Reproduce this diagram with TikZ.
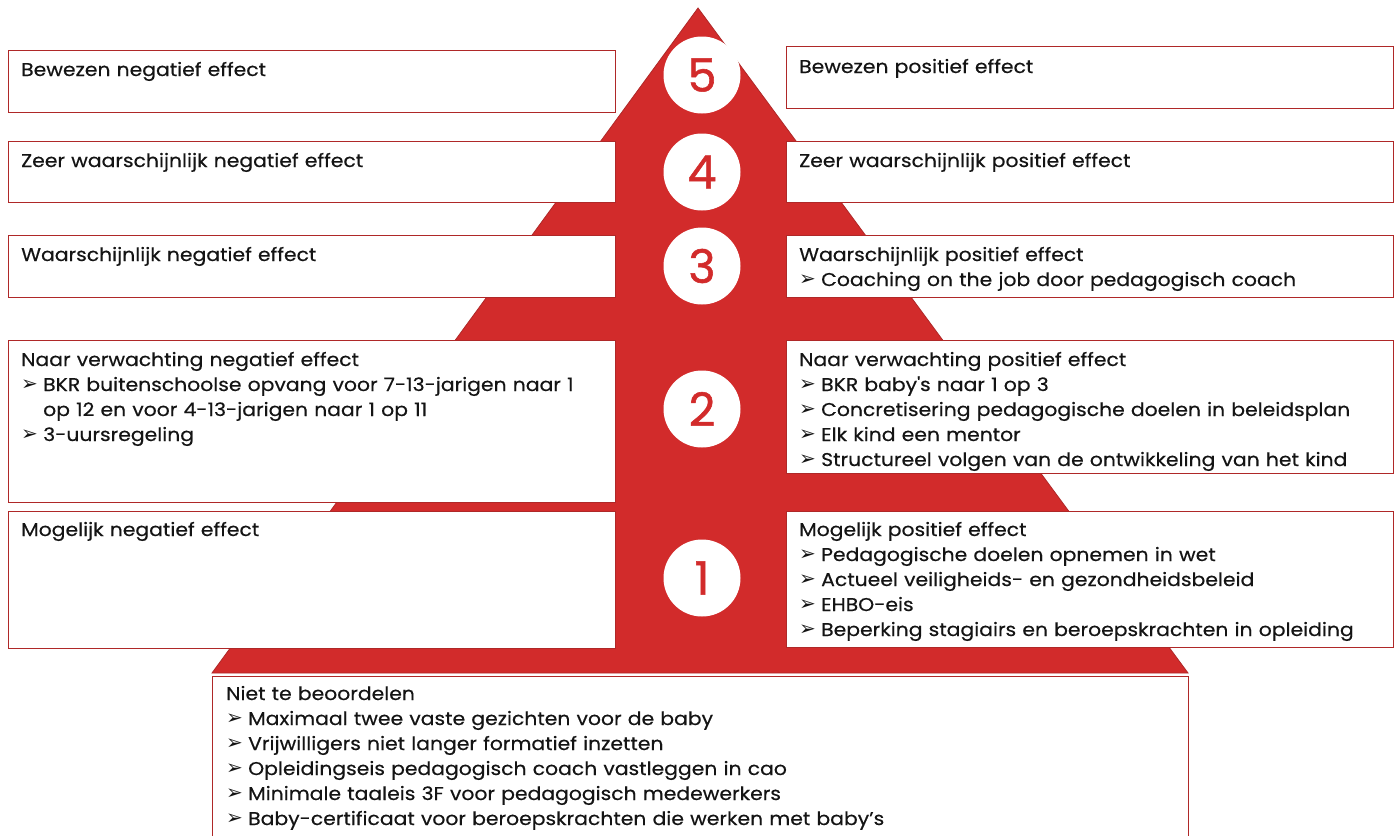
\documentclass[tikz,border=0pt]{standalone}
\usepackage{fontspec}
\setmainfont[FakeStretch=1.1, FakeBold=0.4]{Poppins}
\newfontfamily\numf[FakeBold=1.2]{Poppins}
\newfontfamily\symf{DejaVu Sans}
\definecolor{pyr}{RGB}{210,43,43}
\definecolor{bord}{RGB}{175,40,40}
\definecolor{ink}{RGB}{20,20,20}
\newcommand{\bul}{\makebox[22pt][l]{\raisebox{0.5pt}{\symf\fontsize{20}{20}\selectfont ➢}}}
\newcommand{\ind}{\hspace*{22pt}}
\tikzset{
  box/.style={draw=bord, fill=white, line width=1.2pt, inner sep=0, anchor=north west},
  txt/.style={anchor=base west, inner sep=0, text width=600pt, align=left, text=ink,
              font=\fontsize{18.5}{25}\selectfont},
  circ/.style={circle, fill=white, minimum size=77pt, inner sep=0, text=pyr,
               font=\numf\fontsize{46}{46}\selectfont}
}
\begin{document}
\begin{tikzpicture}[x=1pt,y=-1pt]
\useasboundingbox (0,0) rectangle (1397,835);
\clip (0,0) rectangle (1397,835);
% pyramid
\filldraw[fill=pyr, draw=bord, line width=0.8pt] (698,8) -- (1188,673) -- (212,673) -- cycle;
% left boxes
\node[box, minimum width=607pt, minimum height=62pt] (l5) at (8,50) {};
\node[box, minimum width=607pt, minimum height=61pt] (l4) at (8,141) {};
\node[box, minimum width=607pt, minimum height=62pt] (l3) at (8,235) {};
\node[box, minimum width=607pt, minimum height=162pt] (l2) at (8,340) {};
\node[box, minimum width=607pt, minimum height=137pt] (l1) at (8,511) {};
% right boxes
\node[box, minimum width=607pt, minimum height=62pt] (r5) at (786,46) {};
\node[box, minimum width=607pt, minimum height=61pt] (r4) at (786,141) {};
\node[box, minimum width=607pt, minimum height=62pt] (r3) at (786,235) {};
\node[box, minimum width=607pt, minimum height=133pt] (r2) at (786,340) {};
\node[box, minimum width=607pt, minimum height=136pt] (r1) at (786,511) {};
% bottom box
\node[box, minimum width=976pt, minimum height=180pt] (b0) at (212,676) {};
% texts left
\node[txt] (tl5) at (21,76) {Bewezen negatief effect};
\node[txt] (tl4) at (21,167) {Zeer waarschijnlijk negatief effect};
\node[txt] (tl3) at (21,261) {Waarschijnlijk negatief effect};
\node[txt] (tl2) at (21,366) {Naar verwachting negatief effect\\
  \bul BKR buitenschoolse opvang voor 7-13-jarigen naar 1\\
  \ind op 12 en voor 4-13-jarigen naar 1 op 11\\
  \bul 3-uursregeling};
\node[txt] (tl1) at (21,536) {Mogelijk negatief effect};
% texts right
\node[txt] (tr5) at (799,73) {Bewezen positief effect};
\node[txt] (tr4) at (799,167) {Zeer waarschijnlijk positief effect};
\node[txt] (tr3) at (799,261) {Waarschijnlijk positief effect\\
  \bul Coaching on the job door pedagogisch coach};
\node[txt] (tr2) at (799,366) {Naar verwachting positief effect\\
  \bul BKR baby\textquotesingle s naar 1 op 3\\
  \bul Concretisering pedagogische doelen in beleidsplan\\
  \bul Elk kind een mentor\\
  \bul Structureel volgen van de ontwikkeling van het kind};
\node[txt] (tr1) at (799,536) {Mogelijk positief effect\\
  \bul Pedagogische doelen opnemen in wet\\
  \bul Actueel veiligheids- en gezondheidsbeleid\\
  \bul EHBO-eis\\
  \bul Beperking stagiairs en beroepskrachten in opleiding};
% bottom text
\node[txt, text width=950pt] (tb) at (226,700) {Niet te beoordelen\\
  \bul Maximaal twee vaste gezichten voor de baby\\
  \bul Vrijwilligers niet langer formatief inzetten\\
  \bul Opleidingseis pedagogisch coach vastleggen in cao\\
  \bul Minimale taaleis 3F voor pedagogisch medewerkers\\
  \bul Baby-certificaat voor beroepskrachten die werken met baby’s};
% circles
\node[circ] (c5) at (702,75) {5};
\node[circ] (c4) at (702,172) {4};
\node[circ] (c3) at (702,266) {3};
\node[circ] (c2) at (702,409) {2};
\node[circ] (c1) at (702,578) {1};
\end{tikzpicture}
\end{document}
